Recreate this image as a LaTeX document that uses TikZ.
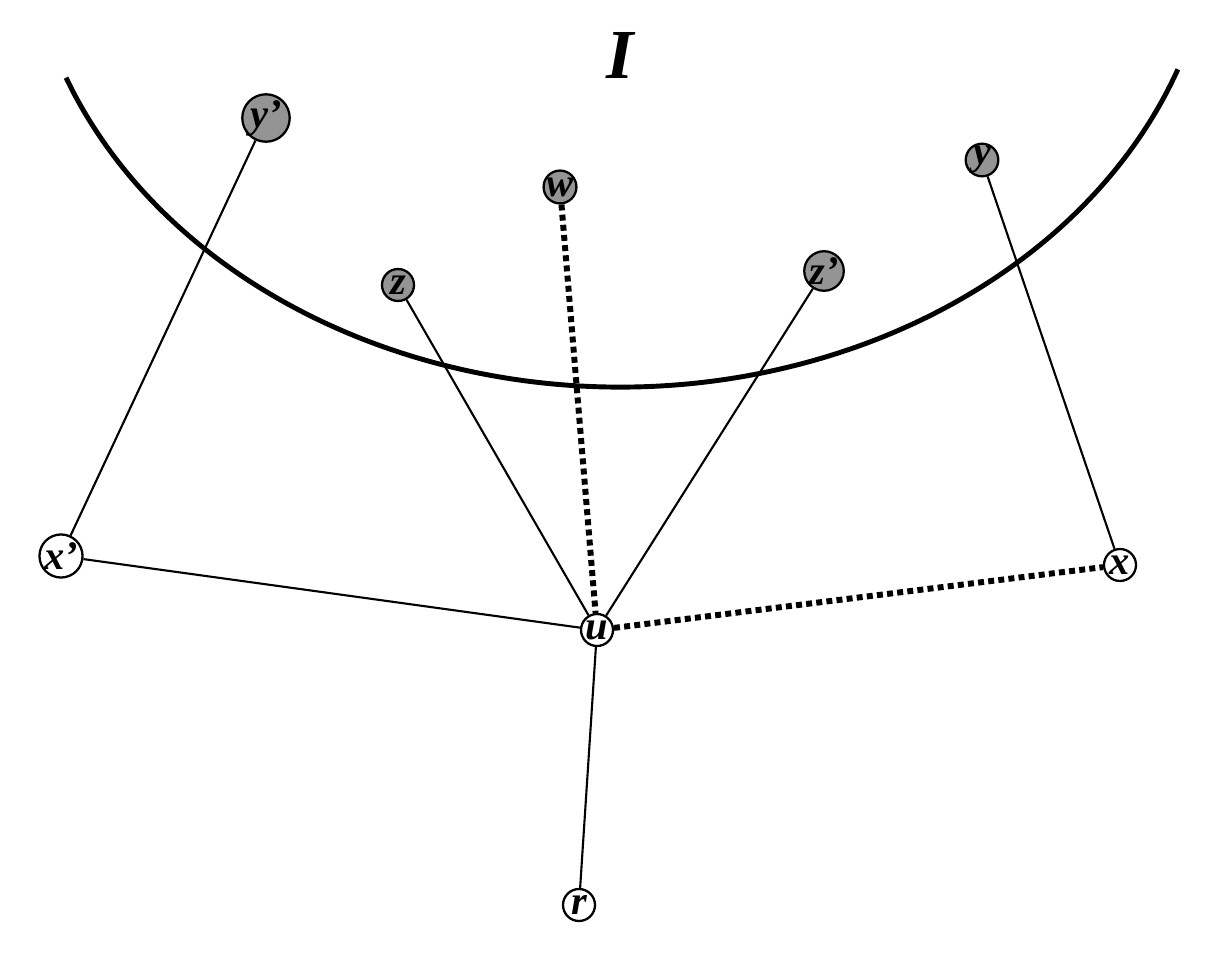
\documentclass[tikz,border=0pt]{standalone}
\usepackage{fontspec}
\setmainfont{Liberation Serif}
\begin{document}
\begin{tikzpicture}[x=0.02cm,y=-0.02cm,
  v/.style={circle,draw,line width=1.3pt,minimum size=0.64cm,inner sep=0pt,font=\fontsize{23}{23}\selectfont\bfseries\itshape},
  g/.style={v,fill=black!42},
  e/.style={line width=1.2pt},
  d/.style={line width=3.4pt,dash pattern=on 3.4pt off 2.4pt}]
\useasboundingbox (0,0) rectangle (1206,959);
\draw[line width=2.8pt] (620,-100) ++(201.4:595 and -487) arc[start angle=201.4,end angle=339.65,x radius=595,y radius=-487];
\node[font=\fontsize{40}{40}\selectfont\bfseries\itshape] (I) at (620,55) {I};
\node[g] (yp) at (266,118) {y’};
\node[g] (w) at (560,187) {w};
\node[g] (y) at (982,160) {y};
\node[g] (z) at (398,285) {z};
\node[g] (zp) at (824,271) {z’};
\node[v] (xp) at (61,556) {x’};
\node[v] (u) at (597,630) {u};
\node[v] (x) at (1120,565) {x};
\node[v] (r) at (579,905) {r};
\draw[e] (yp) -- (xp);
\draw[e] (xp) -- (u);
\draw[e] (z) -- (u);
\draw[e] (zp) -- (u);
\draw[e] (y) -- (x);
\draw[e] (u) -- (r);
\draw[d] (w) -- (u);
\draw[d] (u) -- (x);
\end{tikzpicture}
\end{document}
